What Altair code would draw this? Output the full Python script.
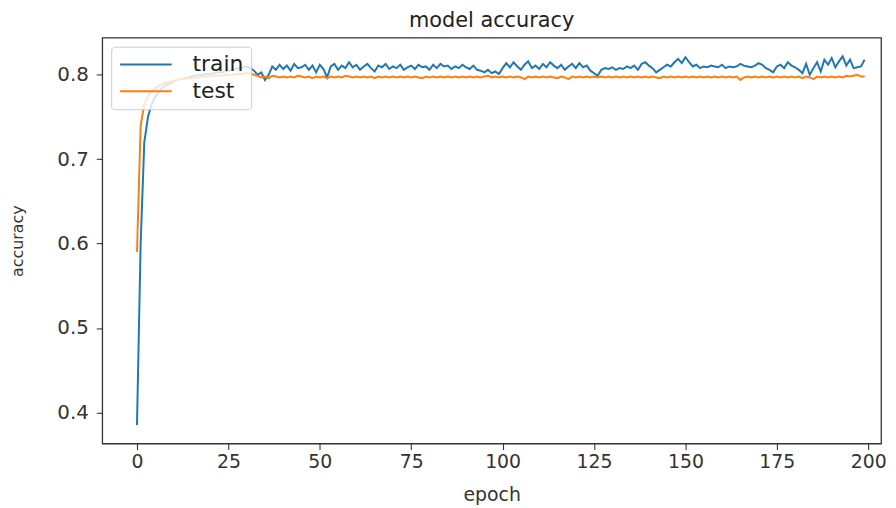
import altair as alt
import pandas as pd

train = [
    0.385, 0.600, 0.720, 0.750, 0.765, 0.774, 0.780, 0.785, 0.788, 0.790,
    0.792, 0.794, 0.795, 0.796, 0.797, 0.798, 0.799, 0.800, 0.800, 0.801,
    0.801, 0.802, 0.803, 0.803, 0.804, 0.805, 0.806, 0.807, 0.808, 0.809,
    0.810, 0.808, 0.805, 0.800, 0.803, 0.794, 0.800, 0.810, 0.806, 0.812,
    0.807, 0.811, 0.805, 0.813, 0.808, 0.809, 0.812, 0.806, 0.811, 0.803,
    0.812, 0.807, 0.797, 0.810, 0.813, 0.806, 0.811, 0.808, 0.815, 0.809,
    0.812, 0.806, 0.810, 0.813, 0.808, 0.804, 0.811, 0.809, 0.813, 0.807,
    0.810, 0.808, 0.812, 0.806, 0.809, 0.811, 0.807, 0.812, 0.809, 0.810,
    0.806, 0.812, 0.808, 0.813, 0.810, 0.811, 0.807, 0.810, 0.808, 0.812,
    0.809, 0.807, 0.811, 0.806, 0.805, 0.803, 0.806, 0.802, 0.804, 0.801,
    0.808, 0.814, 0.809, 0.815, 0.810, 0.806, 0.812, 0.816, 0.808, 0.811,
    0.807, 0.813, 0.809, 0.815, 0.811, 0.808, 0.812, 0.806, 0.810, 0.813,
    0.808, 0.814, 0.809, 0.811, 0.805, 0.802, 0.799, 0.806, 0.808, 0.807,
    0.809, 0.806, 0.808, 0.807, 0.810, 0.808, 0.811, 0.806, 0.813, 0.815,
    0.811, 0.808, 0.803, 0.806, 0.809, 0.812, 0.810, 0.815, 0.819, 0.814,
    0.821, 0.815, 0.810, 0.812, 0.808, 0.810, 0.809, 0.811, 0.810, 0.809,
    0.812, 0.808, 0.810, 0.809, 0.810, 0.813, 0.811, 0.810, 0.809, 0.811,
    0.814, 0.812, 0.808, 0.806, 0.803, 0.810, 0.812, 0.808, 0.815, 0.811,
    0.809, 0.806, 0.802, 0.813, 0.800, 0.808, 0.815, 0.804, 0.818, 0.812,
    0.820, 0.809, 0.816, 0.822, 0.811, 0.818, 0.808, 0.809, 0.810, 0.818,
]

test = [
    0.590, 0.740, 0.765, 0.775, 0.780, 0.784, 0.787, 0.789, 0.791, 0.792,
    0.793, 0.794, 0.795, 0.795, 0.796, 0.796, 0.797, 0.797, 0.798, 0.798,
    0.798, 0.799, 0.799, 0.799, 0.800, 0.800, 0.800, 0.801, 0.801, 0.801,
    0.802, 0.802, 0.800, 0.799, 0.797, 0.798, 0.796, 0.799, 0.798, 0.797,
    0.798, 0.797, 0.798, 0.797, 0.799, 0.798, 0.797, 0.798, 0.796, 0.798,
    0.797, 0.798, 0.796, 0.798, 0.797, 0.798, 0.797, 0.799, 0.798, 0.797,
    0.798, 0.797, 0.798, 0.797, 0.798, 0.796, 0.798, 0.797, 0.798, 0.797,
    0.798, 0.797, 0.798, 0.797, 0.798, 0.797, 0.798, 0.797, 0.796, 0.798,
    0.797, 0.798, 0.797, 0.798, 0.797, 0.798, 0.797, 0.798, 0.797, 0.798,
    0.797, 0.798, 0.797, 0.798, 0.797, 0.798, 0.799, 0.797, 0.798, 0.797,
    0.798, 0.797, 0.798, 0.797, 0.798, 0.797, 0.795, 0.798, 0.797, 0.798,
    0.797, 0.798, 0.797, 0.798, 0.797, 0.796, 0.798, 0.797, 0.795, 0.798,
    0.797, 0.798, 0.797, 0.798, 0.797, 0.798, 0.797, 0.798, 0.797, 0.798,
    0.797, 0.798, 0.797, 0.798, 0.797, 0.798, 0.797, 0.798, 0.797, 0.798,
    0.797, 0.798, 0.797, 0.796, 0.798, 0.797, 0.798, 0.797, 0.798, 0.797,
    0.798, 0.797, 0.798, 0.797, 0.798, 0.797, 0.798, 0.797, 0.798, 0.797,
    0.798, 0.797, 0.798, 0.797, 0.798, 0.794, 0.797, 0.798, 0.797, 0.798,
    0.797, 0.798, 0.797, 0.798, 0.797, 0.798, 0.797, 0.798, 0.797, 0.798,
    0.797, 0.798, 0.796, 0.798, 0.797, 0.795, 0.798, 0.797, 0.798, 0.797,
    0.798, 0.797, 0.798, 0.797, 0.799, 0.798, 0.799, 0.800, 0.798, 0.798,
]

series = ["train", "test"]
colors = ["#1f77b4", "#ff7f0e"]
x_ticks = [0, 25, 50, 75, 100, 125, 150, 175, 200]
y_ticks = [0.4, 0.5, 0.6, 0.7, 0.8]

rows = []
for name, vals in zip(series, [train, test]):
    for i, v in enumerate(vals):
        rows.append({"epoch": i, "accuracy": v, "series": name})
df = pd.DataFrame(rows)

FONT = "DejaVu Sans"

chart = (
    alt.Chart(df)
    .mark_line(strokeWidth=2, clip=True)
    .encode(
        x=alt.X(
            "epoch:Q",
            scale=alt.Scale(domain=[-9.5, 203.5], nice=False, zero=False),
            axis=alt.Axis(values=x_ticks, title="epoch", grid=False, domain=False,
                          labelFlush=False, tickSize=6, tickColor="#222",
                          labelFontSize=19, labelColor="#333", labelPadding=3,
                          titleFontSize=19, titleFontWeight="normal",
                          titleColor="#333", titlePadding=14, labelFont=FONT,
                          titleFont=FONT),
        ),
        y=alt.Y(
            "accuracy:Q",
            scale=alt.Scale(domain=[0.363, 0.844], nice=False, zero=False),
            axis=alt.Axis(values=y_ticks, format=".1f", title="accuracy", grid=False,
                          domain=False, labelFlush=False, tickSize=6,
                          tickColor="#222", labelFontSize=20, labelColor="#333",
                          labelPadding=8, titleFontSize=16,
                          titleFontWeight="normal", titleColor="#333",
                          titlePadding=32, labelFont=FONT, titleFont=FONT),
        ),
        color=alt.Color(
            "series:N",
            sort=series,
            scale=alt.Scale(domain=series, range=colors),
            legend=alt.Legend(
                title=None, orient="top-left", offset=9,
                symbolType="M-3,0H3", symbolSize=300, symbolStrokeWidth=2,
                symbolOffset=17, labelFontSize=22, labelFont=FONT,
                labelColor="#222", labelOffset=36, rowPadding=5, padding=7,
                fillColor="rgba(255,255,255,0.8)", strokeColor="#ccc",
                cornerRadius=3,
            ),
        ),
        order="epoch:Q",
    )
    .properties(
        width=785,
        height=409,
        title=alt.TitleParams("model accuracy", fontSize=21, font=FONT,
                              fontWeight="normal", color="#222", offset=7,
                              anchor="middle"),
        padding={"left": 95, "top": 28, "right": 7, "bottom": 66},
        autosize=alt.AutoSizeParams(type="none"),
    )
    .configure_view(stroke="#333", strokeWidth=1.3)
)

chart.save("out.html", embed_options={"renderer": "svg", "actions": False})
